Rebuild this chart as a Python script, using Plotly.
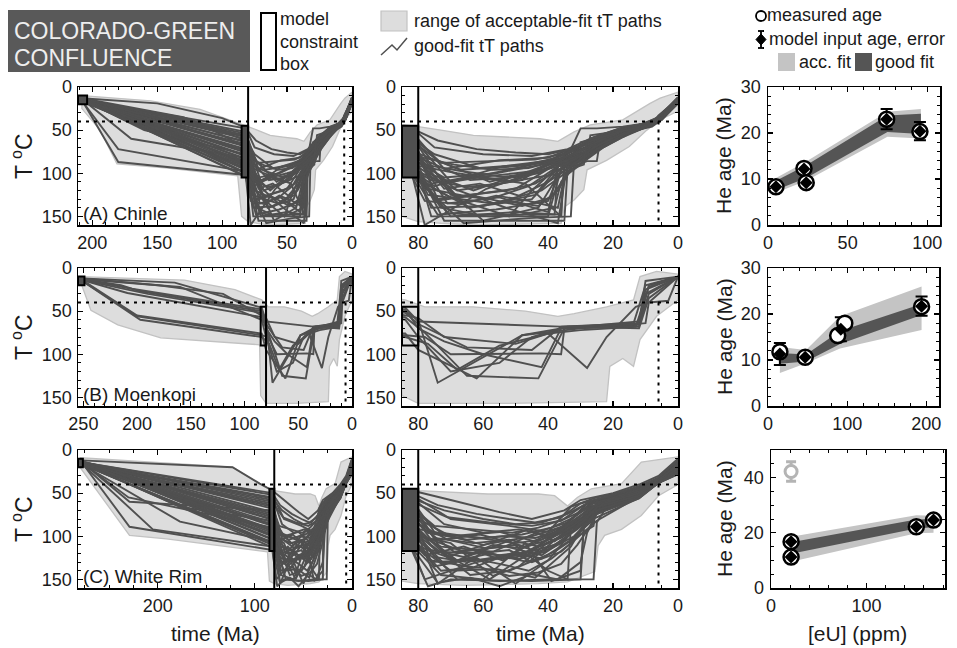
import plotly.graph_objects as go

W, H = 957, 648
FONT = "Liberation Sans, Arial, Helvetica, sans-serif"
PATH_COLOR = "#505050"
ENV_FILL = "#dddddd"
ENV_LINE = "#c2c2c2"
LIGHT_BAND = "#c4c4c4"
DARK_BAND = "#555555"

# ======================= DATA =======================
# ---- (A) Chinle : acceptable-fit envelope (time Ma, T degC) ----
A_env_up_t = [208, 155, 117, 104, 86, 80, 73, 63, 53, 42.5, 37, 32, 27, 17, 8.6, 5.5, 0]
A_env_up_T = [10, 16, 26, 33, 42, 46, 50, 56, 58, 60, 63, 52, 44, 38, 19, 13, 6]
A_env_lo_t = [208, 194, 181, 142, 88, 85, 80, 73, 63, 48, 36, 35, 32, 29, 28, 22, 15, 9.6, 5.5, 0]
A_env_lo_T = [25, 50, 89, 94, 103, 150, 156, 158, 160, 159, 158, 139, 131, 119, 96, 85, 69, 50, 38, 28]
# good-fit tT paths (time Ma, T degC)
A_paths = [
    [[208, 13], [150, 19], [100, 36], [82, 47], [75, 70], [60, 78], [45, 80], [34, 72], [26, 58], [17, 47], [8, 41], [5, 31], [0, 12]],
    [[208, 14], [82, 52], [72, 95], [55, 85], [40, 82], [32, 70], [25, 60], [16, 48], [8, 42], [5, 32], [0, 13]],
    [[208, 15], [82, 58], [70, 110], [52, 96], [38, 84], [30, 80], [24, 64], [16, 50], [8, 43], [5, 34], [0, 14]],
    [[208, 16], [82, 63], [74, 130], [50, 118], [36, 86], [28, 78], [22, 62], [14, 50], [8, 44], [5, 36], [0, 16]],
    [[208, 12], [82, 68], [65, 140], [45, 130], [35, 90], [30, 84], [26, 66], [18, 54], [9, 44], [5, 38], [0, 18]],
    [[208, 17], [82, 72], [76, 150], [40, 150], [36, 95], [31, 86], [25, 70], [17, 55], [8, 43], [5, 37], [0, 15]],
    [[208, 14], [82, 76], [68, 120], [48, 108], [37, 80], [30, 72], [23, 60], [15, 49], [8, 42], [6, 33], [0, 14]],
    [[208, 15], [82, 80], [60, 155], [43, 140], [34, 85], [29, 80], [24, 66], [16, 52], [9, 45], [5, 35], [0, 17]],
    [[208, 13], [82, 84], [72, 105], [56, 100], [42, 90], [33, 80], [27, 68], [19, 55], [8, 43], [5, 34], [0, 13]],
    [[208, 16], [180, 72], [82, 98], [70, 150], [50, 145], [36, 148], [35, 88], [28, 84], [27, 56], [16, 50], [8, 44], [5, 36], [0, 16]],
    [[208, 15], [180, 87], [82, 102], [66, 158], [46, 152], [33, 150], [32, 86], [26, 74], [18, 56], [9, 43], [5, 37], [0, 19]],
    [[208, 14], [82, 88], [77, 125], [57, 135], [44, 125], [35, 84], [29, 76], [22, 60], [13, 47], [7, 42], [6, 34], [0, 14]],
    [[208, 17], [82, 92], [73, 140], [62, 148], [38, 148], [37, 92], [30, 86], [30, 64], [20, 54], [9, 45], [5, 38], [0, 17]],
    [[208, 12], [82, 96], [75, 115], [54, 92], [41, 86], [32, 74], [25, 58], [15, 46], [8, 41], [5, 33], [0, 12]],
    [[208, 15], [82, 100], [78, 160], [59, 118], [39, 92], [31, 84], [24, 68], [14, 52], [8, 44], [5, 36], [0, 15]],
    [[208, 14], [82, 104], [70, 128], [52, 150], [45, 120], [34, 82], [27, 72], [19, 56], [9, 42], [5, 34], [0, 14]],
    [[208, 16], [150, 45], [82, 90], [68, 100], [47, 112], [36, 150], [35, 90], [29, 82], [26, 62], [16, 50], [8, 43], [5, 35], [0, 16]],
    [[208, 13], [130, 35], [82, 62], [74, 85], [58, 110], [43, 96], [34, 78], [27, 60], [18, 48], [8, 41], [5, 32], [0, 13]],
    [[208, 15], [120, 40], [82, 70], [71, 135], [55, 128], [40, 145], [37, 92], [31, 88], [25, 74], [17, 58], [9, 45], [6, 37], [0, 18]],
    [[208, 14], [160, 50], [82, 78], [64, 108], [49, 104], [38, 88], [32, 76], [26, 66], [17, 52], [8, 44], [5, 36], [0, 15]],
    [[208, 16], [82, 86], [76, 140], [60, 138], [42, 120], [33, 95], [29, 90], [28, 66], [18, 55], [9, 45], [5, 37], [0, 17]],
    [[208, 15], [82, 94], [69, 118], [53, 140], [37, 158], [34, 88], [27, 76], [19, 58], [9, 43], [5, 34], [0, 14]],
    [[208, 13], [82, 56], [73, 88], [57, 86], [44, 84], [36, 78], [29, 66], [20, 52], [10, 42], [5, 33], [0, 13]],
    [[208, 17], [82, 66], [77, 100], [63, 120], [46, 98], [35, 82], [28, 70], [21, 58], [9, 43], [5, 35], [0, 16]],
    [[208, 14], [170, 60], [82, 82], [72, 155], [51, 155], [35, 155], [34, 94], [28, 86], [25, 86], [24, 62], [15, 52], [8, 46], [5, 38], [0, 19]],
    [[208, 15], [82, 74], [67, 96], [50, 92], [41, 88], [31, 72], [24, 60], [15, 48], [8, 42], [5, 33], [0, 14]],
    [[208, 16], [140, 55], [82, 100], [74, 148], [56, 142], [40, 132], [36, 96], [30, 84], [24, 70], [16, 54], [8, 44], [5, 36], [0, 15]],
    [[208, 14], [82, 60], [75, 78], [61, 94], [47, 90], [37, 82], [30, 68], [22, 55], [12, 44], [5, 34], [0, 13]],
    [[208, 15], [82, 48], [74, 62], [62, 72], [50, 76], [40, 78], [33, 72], [30, 48], [25, 48], [17, 46], [8, 41], [5, 31], [0, 12]],
    [[208, 14], [82, 54], [76, 112], [64, 104], [52, 110], [42, 98], [34, 80], [27, 70], [19, 55], [9, 42], [5, 33], [0, 14]],
    [[208, 16], [82, 57], [70, 125], [58, 130], [46, 115], [37, 92], [31, 80], [25, 66], [16, 52], [8, 43], [5, 35], [0, 16]],
    [[208, 13], [82, 64], [78, 90], [66, 98], [54, 104], [43, 100], [35, 86], [28, 76], [20, 60], [9, 44], [5, 36], [0, 17]],
    [[208, 15], [82, 69], [72, 118], [61, 112], [49, 126], [40, 110], [33, 92], [27, 80], [27, 60], [17, 52], [8, 45], [5, 37], [0, 18]],
    [[208, 17], [82, 74], [75, 132], [63, 126], [48, 138], [39, 128], [34, 100], [29, 86], [23, 70], [15, 54], [8, 44], [5, 36], [0, 15]],
    [[208, 14], [82, 79], [69, 90], [57, 96], [46, 94], [38, 86], [31, 76], [24, 62], [15, 49], [8, 42], [5, 34], [0, 13]],
    [[208, 16], [82, 83], [77, 118], [66, 126], [53, 120], [44, 112], [35, 92], [30, 80], [24, 66], [16, 52], [8, 44], [5, 36], [0, 16]],
    [[208, 15], [82, 87], [73, 112], [60, 104], [50, 100], [41, 96], [35, 90], [29, 78], [22, 62], [13, 48], [8, 43], [5, 35], [0, 15]],
    [[208, 13], [82, 91], [71, 146], [58, 150], [48, 148], [38, 140], [36, 110], [32, 88], [26, 74], [18, 58], [9, 45], [5, 37], [0, 18]],
    [[208, 16], [82, 95], [76, 108], [65, 116], [55, 112], [45, 106], [36, 100], [31, 86], [26, 70], [17, 54], [9, 44], [5, 36], [0, 16]],
    [[208, 14], [82, 99], [74, 120], [64, 140], [53, 132], [43, 138], [37, 120], [33, 96], [29, 86], [28, 64], [18, 52], [8, 43], [5, 35], [0, 14]],
    [[208, 15], [82, 103], [78, 132], [67, 136], [56, 126], [46, 132], [37, 140], [35, 104], [30, 90], [25, 72], [16, 54], [8, 44], [5, 36], [0, 17]],
]

# ---- (B) Moenkopi ----
B_env_up_t = [253, 156, 109, 84, 78, 63, 47, 37, 32, 22, 13.7, 11.7, 6.6, 0]
B_env_up_T = [10, 14, 25, 37, 45, 45, 50, 56, 53, 45, 37, 10, 4, 7]
B_env_lo_t = [253, 243, 218, 178, 86, 85, 80, 52, 22, 21, 17, 13.7, 11.7, 6.6, 0]
B_env_lo_T = [15, 49, 66, 81, 89, 148, 157, 157, 155, 114, 105, 114, 83, 56, 37]
B_paths = [
    [[251, 12], [165, 17], [84, 46], [80, 62], [36, 68], [12, 65], [9, 20], [0, 10]],
    [[251, 13], [215, 20], [197, 27], [84, 50], [80, 60], [74, 133], [48, 78], [36, 70], [12, 62], [10, 25], [0, 10]],
    [[251, 14], [209, 29], [84, 57], [78, 75], [65, 125], [43, 128], [35, 70], [12, 66], [9, 30], [0, 10]],
    [[251, 15], [200, 56], [84, 78], [78, 80], [70, 100], [42, 99], [36, 100], [35, 70], [14, 68], [10, 20], [0, 10]],
    [[251, 15], [197, 60], [84, 80], [77, 88], [68, 118], [55, 90], [40, 76], [28, 116], [22, 80], [13, 45], [9, 40], [3, 38], [0, 10]],
    [[251, 12], [180, 20], [120, 30], [84, 55], [80, 58], [72, 80], [50, 88], [40, 76], [30, 72], [12, 68], [10, 30], [0, 10]],
    [[251, 14], [190, 30], [84, 52], [80, 65], [65, 92], [45, 95], [36, 68], [12, 64], [10, 15], [0, 10]],
    [[251, 13], [205, 24], [84, 48], [80, 70], [72, 85], [60, 100], [42, 115], [36, 70], [13, 68], [9, 22], [0, 10]],
    [[251, 14], [200, 55], [84, 76], [80, 95], [62, 128], [48, 78], [30, 70], [10, 64], [9, 40], [0, 10]],
    [[251, 13], [160, 22], [84, 60], [80, 80], [70, 120], [55, 110], [45, 80], [34, 68], [12, 70], [9, 35], [0, 10]],
]

# ---- (C) White Rim ----
C_env_up_t = [280, 123, 95, 85, 80, 68.7, 58.5, 43, 38, 34, 31, 26.7, 17.4, 11.3, 0]
C_env_up_T = [9, 20, 39, 45, 47, 49, 51, 51, 53, 65, 55, 45, 39, 14, 8]
C_env_lo_t = [280, 259, 229, 191, 87, 85, 80, 66, 43, 34, 25.6, 24.6, 22.6, 17.4, 11.3, 6, 0]
C_env_lo_T = [20, 53, 99, 103, 118, 152, 155, 157, 155, 153, 141, 111, 99, 92, 76, 53, 40]
C_paths = [
    [[279, 12], [123, 20], [95, 39], [82, 47], [70, 58], [55, 72], [45, 80], [35, 70], [30, 58], [20, 50], [12, 40], [6, 30], [0, 10]],
    [[279, 14], [82, 52], [70, 80], [52, 88], [40, 95], [33, 66], [26, 56], [12, 44], [6, 34], [0, 15]],
    [[279, 15], [82, 58], [75, 95], [60, 110], [45, 100], [35, 88], [28, 62], [13, 48], [6, 35], [0, 18]],
    [[279, 16], [82, 64], [72, 120], [58, 150], [44, 115], [33, 80], [26, 60], [12, 50], [6, 36], [0, 20]],
    [[279, 13], [229, 60], [82, 70], [76, 130], [50, 125], [38, 100], [30, 85], [25, 70], [12, 52], [6, 37], [0, 22]],
    [[279, 15], [82, 76], [70, 100], [55, 95], [42, 108], [34, 90], [27, 66], [12, 46], [6, 35], [0, 16]],
    [[279, 14], [177, 66], [82, 82], [74, 155], [60, 118], [46, 130], [35, 95], [26, 75], [12, 55], [6, 38], [0, 25]],
    [[279, 16], [82, 88], [68, 128], [52, 105], [40, 140], [34, 150], [33, 88], [25, 68], [12, 48], [6, 36], [0, 18]],
    [[279, 15], [205, 92], [82, 112], [78, 150], [62, 130], [48, 120], [36, 102], [30, 88], [25, 62], [12, 50], [6, 37], [0, 24]],
    [[279, 13], [229, 89], [82, 116], [77, 158], [70, 150], [45, 152], [30, 150], [29, 86], [24, 64], [12, 52], [6, 38], [0, 28]],
    [[279, 14], [82, 94], [73, 112], [57, 118], [43, 95], [34, 84], [27, 62], [12, 47], [6, 35], [0, 14]],
    [[279, 15], [82, 100], [75, 135], [62, 125], [50, 155], [40, 128], [32, 92], [26, 70], [12, 54], [6, 37], [0, 26]],
    [[279, 16], [177, 83], [82, 106], [70, 140], [56, 138], [44, 148], [33, 112], [28, 80], [24, 62], [12, 51], [6, 38], [0, 21]],
    [[279, 14], [82, 60], [71, 78], [58, 84], [45, 88], [36, 82], [29, 64], [22, 55], [12, 44], [6, 34], [0, 12]],
    [[279, 13], [82, 72], [74, 105], [61, 98], [47, 112], [37, 96], [31, 74], [25, 58], [12, 45], [6, 35], [0, 17]],
    [[279, 15], [82, 80], [69, 118], [53, 112], [42, 122], [35, 104], [29, 80], [25, 66], [12, 50], [6, 36], [0, 20]],
    [[279, 16], [82, 86], [76, 110], [64, 145], [52, 140], [38, 118], [31, 100], [26, 88], [25, 60], [12, 49], [6, 37], [0, 23]],
    [[279, 14], [230, 55], [82, 90], [72, 98], [60, 102], [48, 98], [39, 90], [32, 78], [26, 62], [12, 47], [6, 35], [0, 16]],
    [[279, 15], [82, 98], [70, 108], [57, 146], [49, 135], [41, 110], [34, 96], [28, 72], [12, 52], [6, 37], [0, 24]],
    [[279, 13], [82, 104], [78, 122], [66, 112], [54, 128], [44, 105], [34, 88], [25, 78], [12, 56], [6, 38], [0, 27]],
    [[279, 16], [82, 110], [73, 145], [60, 150], [47, 108], [39, 152], [30, 140], [29, 90], [25, 72], [12, 53], [6, 38], [0, 25]],
    [[279, 14], [82, 66], [75, 88], [63, 92], [51, 96], [43, 90], [35, 80], [28, 68], [21, 58], [12, 46], [6, 35], [0, 15]],
    [[279, 15], [82, 78], [77, 96], [65, 104], [54, 100], [44, 102], [36, 94], [29, 76], [24, 64], [12, 48], [6, 36], [0, 19]],
    [[279, 13], [82, 92], [74, 118], [62, 120], [52, 116], [45, 130], [36, 118], [30, 98], [25, 82], [12, 54], [6, 37], [0, 22]],
    [[279, 16], [82, 56], [72, 70], [60, 80], [50, 86], [42, 84], [34, 74], [27, 60], [12, 43], [6, 33], [0, 11]],
    [[279, 15], [82, 84], [71, 124], [58, 108], [46, 92], [38, 106], [31, 84], [26, 70], [12, 49], [6, 36], [0, 21]],
    [[279, 14], [82, 96], [68, 150], [55, 152], [40, 150], [26, 150], [25, 84], [22, 66], [12, 54], [6, 38], [0, 26]],
    [[279, 16], [82, 108], [76, 128], [63, 136], [50, 118], [42, 126], [33, 104], [27, 84], [24, 64], [12, 52], [6, 38], [0, 24]],
    [[279, 14], [82, 50], [74, 64], [62, 74], [52, 80], [44, 84], [36, 78], [30, 62], [22, 54], [12, 42], [6, 32], [0, 11]],
    [[279, 15], [82, 55], [72, 86], [60, 96], [49, 92], [41, 98], [34, 86], [28, 70], [24, 60], [12, 46], [6, 35], [0, 16]],
    [[279, 16], [82, 62], [75, 102], [63, 108], [52, 104], [43, 112], [35, 98], [29, 82], [25, 68], [12, 50], [6, 36], [0, 19]],
    [[279, 13], [82, 68], [73, 96], [61, 102], [50, 108], [42, 104], [35, 90], [29, 74], [24, 62], [12, 48], [6, 35], [0, 17]],
    [[279, 15], [82, 74], [76, 104], [66, 118], [55, 122], [46, 118], [38, 110], [31, 92], [26, 76], [12, 52], [6, 37], [0, 22]],
    [[279, 14], [82, 81], [71, 104], [59, 114], [50, 110], [43, 118], [37, 108], [31, 90], [26, 72], [12, 51], [6, 37], [0, 21]],
    [[279, 16], [82, 87], [75, 124], [65, 130], [56, 124], [47, 122], [39, 114], [32, 100], [27, 80], [24, 66], [12, 53], [6, 38], [0, 24]],
    [[279, 15], [82, 93], [72, 132], [63, 126], [55, 132], [46, 140], [39, 126], [33, 108], [28, 86], [25, 70], [12, 54], [6, 38], [0, 26]],
    [[279, 14], [82, 99], [76, 116], [66, 124], [57, 110], [48, 114], [40, 104], [34, 92], [28, 76], [23, 62], [12, 50], [6, 37], [0, 22]],
    [[279, 13], [82, 103], [73, 140], [61, 136], [52, 146], [43, 142], [36, 132], [31, 110], [27, 88], [25, 70], [12, 55], [6, 38], [0, 27]],
    [[279, 16], [82, 107], [77, 116], [68, 128], [58, 120], [49, 126], [41, 118], [34, 100], [29, 82], [25, 66], [12, 53], [6, 38], [0, 25]],
    [[279, 15], [82, 113], [74, 154], [64, 148], [55, 158], [45, 144], [37, 150], [30, 130], [28, 96], [25, 74], [12, 56], [6, 38], [0, 28]],
]

# constraint boxes [t_young, t_old, T_top, T_bottom]
A_start_box = [204, 211, 10, 20]
B_start_box = [249, 255, 10, 20]
C_start_box = [277, 282, 10, 20]
A_box = [80, 85, 45, 105]
B_box = [80, 85, 45, 90]
C_box = [80, 85, 45, 117]

# ---- He age vs eU ----
A_eu_meas = [5, 22.6, 24, 74.5, 95.4]
A_age_meas = [8.3, 12.3, 9.2, 23.0, 20.3]
A_eu_mod = [5, 22.6, 24, 74.5, 95.4]
A_age_mod = [8.3, 12.2, 9.2, 23.0, 20.4]
A_err_mod = [0.7, 1.1, 0.9, 2.2, 2.0]
A_band_eu = [5, 24, 75, 96]
A_light_lo = [7.0, 9.6, 19.2, 18.8]
A_light_hi = [10.2, 13.8, 24.6, 25.2]
A_dark_lo = [7.6, 10.2, 20.2, 19.8]
A_dark_hi = [9.6, 13.0, 23.8, 24.2]

B_eu_meas = [15, 47, 88, 97, 194]
B_age_meas = [11.8, 10.6, 15.3, 18.0, 21.6]
B_eu_mod = [15, 47, 92, 194]
B_age_mod = [11.3, 10.6, 16.7, 21.7]
B_err_mod = [2.4, 0.8, 2.6, 2.1]
B_band_eu = [15, 48, 91, 194]
B_light_lo = [7.2, 9.3, 12.5, 16.5]
B_light_hi = [12.8, 12.2, 19.5, 26.0]
B_dark_lo = [9.2, 9.7, 13.5, 19.8]
B_dark_hi = [11.5, 11.2, 16.3, 22.2]

C_eu_meas = [21, 21, 152, 170]
C_age_meas = [16.8, 11.2, 22.2, 24.6]
C_eu_mod = [21, 21, 152, 170]
C_age_mod = [16.8, 11.2, 22.2, 24.6]
C_err_mod = [1.3, 1.1, 1.3, 1.6]
C_eu_excl = [21]
C_age_excl = [42.2]
C_err_excl = [3.5]
C_band_eu = [21, 152, 170]
C_light_lo = [9.5, 19.8, 20.0]
C_light_hi = [18.6, 26.4, 26.2]
C_dark_lo = [12.4, 21.6, 22.0]
C_dark_hi = [16.6, 24.8, 25.0]

# tick labels / ranges
T_ticks = [0, 50, 100, 150]
A_time_ticks = [200, 150, 100, 50, 0]
B_time_ticks = [250, 200, 150, 100, 50, 0]
C_time_ticks = [200, 100, 0]
zoom_time_ticks = [80, 60, 40, 20, 0]
panel_labels = ["(A) Chinle", "(B) Moenkopi", "(C) White Rim"]

# ======================= LAYOUT HELPERS =======================
def PX(x):
    return x / W

def PY(y):
    return 1 - y / H

def refs(i):
    return ("x" if i == 1 else f"x{i}"), ("y" if i == 1 else f"y{i}")

fig = go.Figure()
shapes = []
annotations = []

def path_xy(paths):
    xs, ys = [], []
    for p in paths:
        for t, T in p:
            xs.append(t)
            ys.append(T)
        xs.append(None)
        ys.append(None)
    return xs, ys

def add_rect(i, x0, x1, y0, y1, fill=None, lw=2, color="black"):
    xr, yr = refs(i)
    shapes.append(dict(type="rect", xref=xr, yref=yr, x0=x0, x1=x1, y0=y0, y1=y1,
                       line=dict(color=color, width=lw),
                       fillcolor=fill if fill else "rgba(0,0,0,0)", layer="above"))

def add_line(i, x0, x1, y0, y1, dash=None, lw=2):
    xr, yr = refs(i)
    ln = dict(color="black", width=lw)
    if dash:
        ln["dash"] = dash
    shapes.append(dict(type="line", xref=xr, yref=yr, x0=x0, x1=x1, y0=y0, y1=y1,
                       line=ln, layer="above"))

rows_y = [(87, 225), (268, 406), (450, 588)]
left_x = (78, 352)
mid_x = (402, 678)
right_x = [(768, 940), (768, 939), (771, 945)]

samples = [
    dict(paths=A_paths, env=(A_env_up_t, A_env_up_T, A_env_lo_t, A_env_lo_T),
         sbox=A_start_box, box=A_box, fillbox=True, tmax=211, ticks=A_time_ticks, minor=10,
         eu_meas=A_eu_meas, age_meas=A_age_meas, eu_mod=A_eu_mod, age_mod=A_age_mod, err=A_err_mod,
         beu=A_band_eu, llo=A_light_lo, lhi=A_light_hi, dlo=A_dark_lo, dhi=A_dark_hi,
         xr=[0, 108], xt=[0, 50, 100], xm=10, yr=[0, 30], yt=[0, 10, 20, 30], ym=2),
    dict(paths=B_paths, env=(B_env_up_t, B_env_up_T, B_env_lo_t, B_env_lo_T),
         sbox=B_start_box, box=B_box, fillbox=False, tmax=255, ticks=B_time_ticks, minor=10,
         eu_meas=B_eu_meas, age_meas=B_age_meas, eu_mod=B_eu_mod, age_mod=B_age_mod, err=B_err_mod,
         beu=B_band_eu, llo=B_light_lo, lhi=B_light_hi, dlo=B_dark_lo, dhi=B_dark_hi,
         xr=[0, 216], xt=[0, 100, 200], xm=20, yr=[0, 30], yt=[0, 10, 20, 30], ym=2),
    dict(paths=C_paths, env=(C_env_up_t, C_env_up_T, C_env_lo_t, C_env_lo_T),
         sbox=C_start_box, box=C_box, fillbox=True, tmax=282, ticks=C_time_ticks, minor=25,
         eu_meas=C_eu_meas, age_meas=C_age_meas, eu_mod=C_eu_mod, age_mod=C_age_mod, err=C_err_mod,
         beu=C_band_eu, llo=C_light_lo, lhi=C_light_hi, dlo=C_dark_lo, dhi=C_dark_hi,
         xr=[0, 182], xt=[0, 100], xm=20, yr=[0, 50], yt=[0, 20, 40], ym=5),
]

TICKFONT = dict(size=18, color="#1a1a1a", family=FONT)

def axis_common(rng, tickvals, minor_dtick, domain, anchor, standoff):
    return dict(range=rng, tickvals=tickvals, domain=domain, anchor=anchor,
                automargin=False,
                showline=True, linecolor="black", linewidth=1.5, mirror="ticks",
                ticks="inside", ticklen=5, tickwidth=1.2, tickcolor="black",
                showgrid=False, zeroline=False, tickfont=TICKFONT,
                ticklabelstandoff=standoff,
                minor=dict(ticks="inside", ticklen=3, tickwidth=1, tickcolor="black",
                           dtick=minor_dtick, showgrid=False))

layout_axes = {}

for r, s in enumerate(samples):
    y0p, y1p = rows_y[r]
    ydom = [PY(y1p), PY(y0p)]
    iL, iM, iR = 3 * r + 1, 3 * r + 2, 3 * r + 3
    up_t, up_T, lo_t, lo_T = s["env"]
    env_x = up_t + lo_t[::-1] + [up_t[0]]
    env_y = up_T + lo_T[::-1] + [up_T[0]]
    px_, py_ = path_xy(s["paths"])
    for i in (iL, iM):
        xr, yr = refs(i)
        fig.add_trace(go.Scatter(x=env_x, y=env_y, mode="lines", fill="toself",
                                 fillcolor=ENV_FILL, line=dict(color=ENV_LINE, width=1.3),
                                 xaxis=xr, yaxis=yr, hoverinfo="skip"))
        fig.add_trace(go.Scatter(x=px_, y=py_, mode="lines",
                                 line=dict(color=PATH_COLOR, width=1.9),
                                 xaxis=xr, yaxis=yr, hoverinfo="skip", connectgaps=False))
        tmax = s["tmax"] if i == iL else 85
        b = s["box"]
        add_rect(i, b[0], b[1], b[2], b[3], fill="#505050" if s["fillbox"] else None)
        sb = s["sbox"]
        if i == iL:
            add_rect(i, sb[0], sb[1], sb[2], sb[3], fill="#505050")
        add_line(i, 80, 80, 0, 160, lw=2)
        add_line(i, tmax, 0, 40, 40, dash="3px,5px", lw=2)
        add_line(i, 6, 6, 40, 160, dash="3px,5px", lw=2)

    # T axes
    for i, xd, rng, tv, mn in ((iL, left_x, [s["tmax"], 0], s["ticks"], s["minor"]),
                               (iM, mid_x, [85, 0], zoom_time_ticks, 5)):
        xr, yr = refs(i)
        layout_axes["xaxis" if i == 1 else f"xaxis{i}"] = axis_common(
            rng, tv, mn, [PX(xd[0]), PX(xd[1])], yr, 1)
        layout_axes["yaxis" if i == 1 else f"yaxis{i}"] = axis_common(
            [160, 0], T_ticks, 10, ydom, xr, 1)

    # He-age panel
    xr, yr = refs(iR)
    bx = s["beu"] + s["beu"][::-1]
    fig.add_trace(go.Scatter(x=bx, y=s["lhi"] + s["llo"][::-1], mode="lines", fill="toself",
                             fillcolor=LIGHT_BAND, line=dict(width=0, color=LIGHT_BAND),
                             xaxis=xr, yaxis=yr, hoverinfo="skip"))
    fig.add_trace(go.Scatter(x=bx, y=s["dhi"] + s["dlo"][::-1], mode="lines", fill="toself",
                             fillcolor=DARK_BAND, line=dict(width=0, color=DARK_BAND),
                             xaxis=xr, yaxis=yr, hoverinfo="skip"))
    if r == 2:
        fig.add_trace(go.Scatter(x=C_eu_excl, y=C_age_excl, mode="markers",
                                 marker=dict(symbol="circle", size=12, color="white",
                                             line=dict(color="#b4b4b4", width=3)),
                                 error_y=dict(type="data", array=C_err_excl, color="#b4b4b4",
                                              thickness=3, width=5),
                                 xaxis=xr, yaxis=yr, hoverinfo="skip"))
    fig.add_trace(go.Scatter(x=s["eu_mod"], y=s["age_mod"], mode="markers",
                             marker=dict(symbol="diamond", size=1, color="black"),
                             error_y=dict(type="data", array=s["err"], color="black",
                                          thickness=2, width=6),
                             xaxis=xr, yaxis=yr, hoverinfo="skip"))
    fig.add_trace(go.Scatter(x=s["eu_meas"], y=s["age_meas"], mode="markers",
                             marker=dict(symbol="circle", size=15, color="white",
                                         line=dict(color="black", width=2.5)),
                             xaxis=xr, yaxis=yr, hoverinfo="skip"))
    fig.add_trace(go.Scatter(x=s["eu_mod"], y=s["age_mod"], mode="markers",
                             marker=dict(symbol="diamond", size=10, color="black"),
                             xaxis=xr, yaxis=yr, hoverinfo="skip"))
    rx = right_x[r]
    layout_axes[f"xaxis{iR}"] = axis_common(s["xr"], s["xt"], s["xm"], [PX(rx[0]), PX(rx[1])], yr, 1)
    layout_axes[f"yaxis{iR}"] = axis_common(s["yr"], s["yt"], s["ym"], ydom, xr, 2)

    # texts
    annotations.append(dict(text=panel_labels[r], x=PX(81), y=PY(y1p - 12), xref="paper", yref="paper",
                            xanchor="left", yanchor="middle", showarrow=False,
                            font=dict(size=19, color="#1a1a1a", family=FONT)))
    annotations.append(dict(text="T <sup>o</sup>C", x=PX(22), y=PY((y0p + y1p) / 2), xref="paper",
                            yref="paper", textangle=-90, xanchor="center", yanchor="middle",
                            showarrow=False, font=dict(size=23, color="#1a1a1a", family=FONT)))
    annotations.append(dict(text="He age (Ma)", x=PX(724), y=PY((y0p + y1p) / 2), xref="paper",
                            yref="paper", textangle=-90, xanchor="center", yanchor="middle",
                            showarrow=False, font=dict(size=21, color="#1a1a1a", family=FONT)))

for txt, cx in (("time (Ma)", 215), ("time (Ma)", 540), ("[eU] (ppm)", 857)):
    annotations.append(dict(text=txt, x=PX(cx), y=PY(633), xref="paper", yref="paper",
                            xanchor="center", yanchor="middle", showarrow=False,
                            font=dict(size=21, color="#1a1a1a", family=FONT)))

# ======================= TOP LEGENDS =======================
def prect(x0, y0, x1, y1, fill, line_color=None, lw=0):
    shapes.append(dict(type="rect", xref="paper", yref="paper", x0=PX(x0), x1=PX(x1),
                       y0=PY(y1), y1=PY(y0), fillcolor=fill,
                       line=dict(color=line_color or fill, width=lw)))

def ptext(txt, x, y, size=18, color="#1a1a1a"):
    annotations.append(dict(text=txt, x=PX(x), y=PY(y), xref="paper", yref="paper",
                            xanchor="left", yanchor="middle", showarrow=False,
                            font=dict(size=size, color=color, family=FONT)))

prect(8, 10, 250, 72, "#595959")
ptext("COLORADO-GREEN", 12, 31, size=23, color="#eeeeee")
ptext("CONFLUENCE", 12, 58, size=23, color="#eeeeee")

prect(261, 13, 276, 70, "white", "black", 2)
ptext("model", 278, 19)
ptext("constraint", 278, 42)
ptext("box", 278, 64)

prect(381, 11, 407, 31, ENV_FILL, ENV_LINE, 1.2)
ptext("range of acceptable-fit tT paths", 412, 21)
zig = [(381, 55), (392, 45), (397, 50), (407, 38)]
zpath = "M " + " L ".join(f"{PX(a):.5f},{PY(b):.5f}" for a, b in zig)
shapes.append(dict(type="path", xref="paper", yref="paper", path=zpath,
                   line=dict(color=PATH_COLOR, width=1.5)))
ptext("good-fit tT paths", 412, 46)

shapes.append(dict(type="circle", xref="paper", yref="paper", x0=PX(756), x1=PX(766),
                   y0=PY(21), y1=PY(11), line=dict(color="black", width=1.8)))
ptext("measured age", 765, 15)
shapes.append(dict(type="line", xref="paper", yref="paper", x0=PX(761), x1=PX(761),
                   y0=PY(48), y1=PY(31), line=dict(color="black", width=1.8)))
for yy in (31, 48):
    shapes.append(dict(type="line", xref="paper", yref="paper", x0=PX(758), x1=PX(764),
                       y0=PY(yy), y1=PY(yy), line=dict(color="black", width=1.8)))
dpath = "M {},{} L {},{} L {},{} L {},{} Z".format(PX(761), PY(34), PX(766), PY(39.5),
                                                   PX(761), PY(45), PX(756), PY(39.5))
shapes.append(dict(type="path", xref="paper", yref="paper", path=dpath,
                   fillcolor="black", line=dict(color="black", width=1)))
ptext("model input age, error", 767, 39)
prect(778, 53, 795, 71, LIGHT_BAND)
ptext("acc. fit", 797, 62)
prect(855, 53, 872, 71, DARK_BAND)
ptext("good fit", 873, 62)

fig.update_layout(width=W, height=H, margin=dict(l=0, r=0, t=0, b=0, pad=0, autoexpand=False),
                  paper_bgcolor="white", plot_bgcolor="white", showlegend=False,
                  font=dict(family=FONT, color="#1a1a1a"),
                  shapes=shapes, annotations=annotations, **layout_axes)

fig.write_html("out.html", config={"displayModeBar": False, "staticPlot": True},
               post_script="document.body.style.margin='0';document.body.style.padding='0';"
                           "document.documentElement.style.overflow='hidden';")
